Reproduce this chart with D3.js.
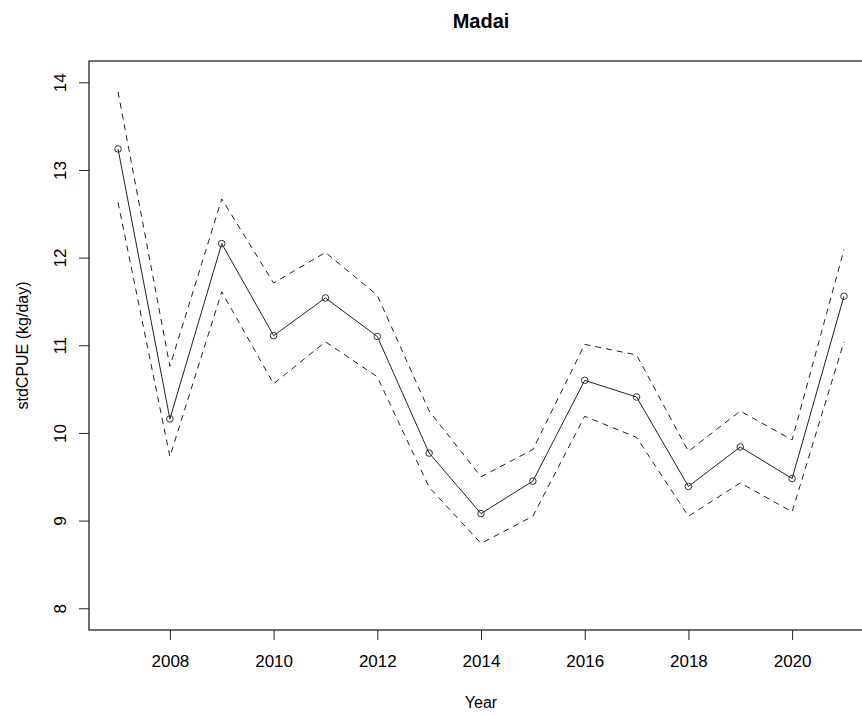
<!DOCTYPE html>
<html>
<head>
<meta charset="utf-8">
<script src="https://cdn.jsdelivr.net/npm/d3@7"></script>
<style>
  body { margin: 0; background: #fff; }
  svg text { font-family: "Liberation Sans", Arial, sans-serif; fill: #000; }
</style>
</head>
<body>
<div id="chart"></div>
<script>
// Madai standardised CPUE with CI

let years = [2007, 2008, 2009, 2010, 2011, 2012, 2013, 2014, 2015, 2016, 2017, 2018, 2019, 2020, 2021];
let cpue  = [13.24, 10.16, 12.16, 11.11, 11.54, 11.10, 9.77, 9.08, 9.45, 10.60, 10.41, 9.39, 9.84, 9.48, 11.56];
let upper = [13.89, 10.76, 12.67, 11.71, 12.06, 11.57, 10.25, 9.50, 9.81, 11.01, 10.89, 9.79, 10.25, 9.92, 12.09];
let lower = [12.63, 9.73, 11.61, 10.56, 11.04, 10.64, 9.38, 8.74, 9.05, 10.19, 9.95, 9.05, 9.43, 9.10, 11.04];
let xTicks = [2008, 2010, 2012, 2014, 2016, 2018, 2020];
let yTicks = [8, 9, 10, 11, 12, 13, 14];

let width = 862, height = 715;
let plot = {left: 89, right: 873, top: 61, bottom: 630};

let svg = d3.select("#chart").append("svg")
    .attr("width", width)
    .attr("height", height);

// R style axis limits (4% padding)
let x = d3.scaleLinear()
    .domain([2006.44, 2021.56])
    .range([plot.left, plot.right]);

let y = d3.scaleLinear()
    .domain([7.752, 14.243])
    .range([plot.bottom, plot.top]);

// box
svg.append("rect")
    .attr("x", plot.left)
    .attr("y", plot.top)
    .attr("width", plot.right - plot.left)
    .attr("height", plot.bottom - plot.top)
    .attr("fill", "none")
    .attr("stroke", "#222")
    .attr("stroke-width", 1.3);

// x axis
let xAxis = d3.axisBottom(x)
    .tickValues(xTicks)
    .tickFormat(d3.format("d"))
    .tickSize(10)
    .tickPadding(15);

let gx = svg.append("g")
    .attr("transform", `translate(0, ${plot.bottom})`)
    .call(xAxis);
gx.select(".domain").remove();
gx.selectAll("line").attr("stroke", "#222");
gx.selectAll("text").attr("font-size", 17).attr("fill", "#000");

// y axis, labels rotated like R
let yAxis = d3.axisLeft(y)
    .tickValues(yTicks)
    .tickFormat(d3.format("d"))
    .tickSize(10);

let gy = svg.append("g")
    .attr("transform", `translate(${plot.left}, 0)`)
    .call(yAxis);
gy.select(".domain").remove();
gy.selectAll("line").attr("stroke", "#222");
gy.selectAll("text")
    .attr("font-size", 17)
    .attr("fill", "#000")
    .attr("x", 0).attr("dy", 0)
    .attr("text-anchor", "middle")
    .attr("transform", "translate(-23, 0) rotate(-90)");

// lines
let line = d3.line()
    .x((d, i) => x(years[i]))
    .y(d => y(d));

[upper, lower].forEach(arr => {
    svg.append("path")
        .datum(arr)
        .attr("d", line)
        .attr("fill", "none")
        .attr("stroke", "#222")
        .attr("stroke-width", 1)
        .attr("stroke-dasharray", "6,5");
});

svg.append("path")
    .datum(cpue)
    .attr("d", line)
    .attr("fill", "none")
    .attr("stroke", "#222")
    .attr("stroke-width", 1);

svg.selectAll("circle.pt")
    .data(cpue)
    .enter().append("circle")
    .attr("class", "pt")
    .attr("cx", (d, i) => x(years[i]))
    .attr("cy", d => y(d))
    .attr("r", 3.3)
    .attr("fill", "none")
    .attr("stroke", "#333")
    .attr("stroke-width", 1);

// titles
svg.append("text")
    .attr("x", 481)
    .attr("y", 28)
    .attr("text-anchor", "middle")
    .attr("font-size", 20)
    .attr("font-weight", "bold")
    .text("Madai");

svg.append("text")
    .attr("x", 481)
    .attr("y", 708)
    .attr("text-anchor", "middle")
    .attr("font-size", 16)
    .text("Year");

svg.append("text")
    .attr("transform", `translate(28, ${(plot.top + plot.bottom) / 2}) rotate(-90)`)
    .attr("text-anchor", "middle")
    .attr("font-size", 16)
    .text("stdCPUE (kg/day)");
</script>
</body>
</html>
